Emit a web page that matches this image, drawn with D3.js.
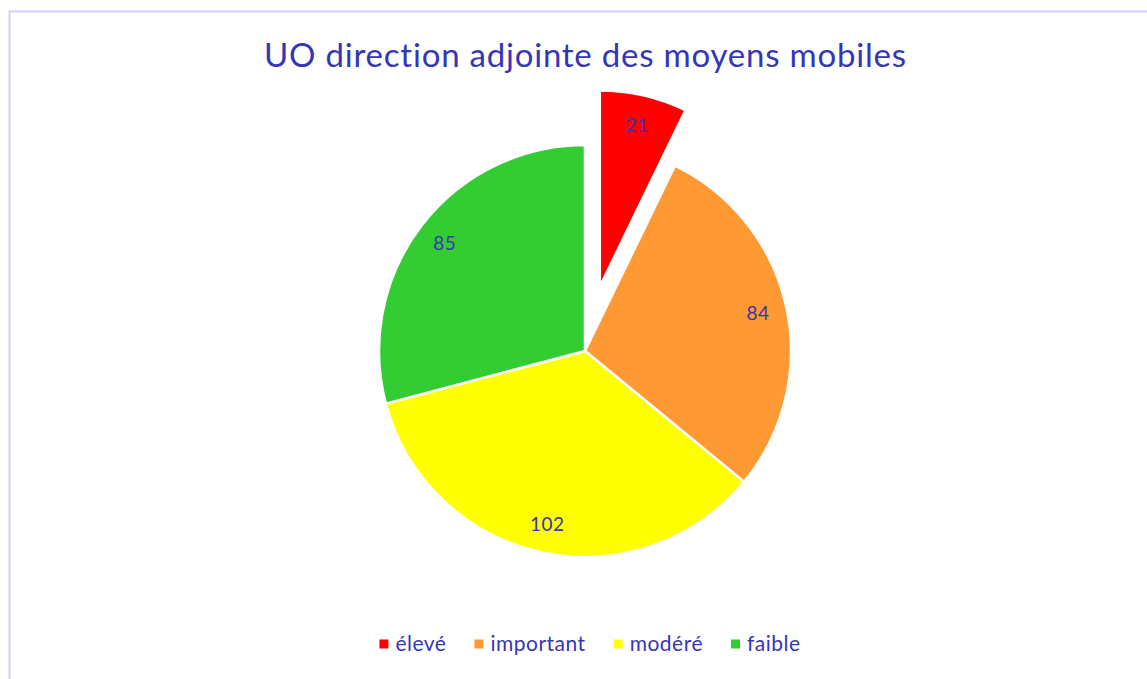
<!DOCTYPE html>
<html>
<head>
<meta charset="utf-8">
<script src="https://cdn.jsdelivr.net/npm/d3@7"></script>
<style>
  body { margin: 0; background: #fff; }
  svg { display: block; font-family: Lato, "Open Sans", sans-serif; font-variant-ligatures: none; }
</style>
</head>
<body>
<div id="chart"></div>
<script>
const categories = ['élevé', 'important', 'modéré', 'faible'];
const values = [21, 84, 102, 85];
const colors = ['#ff0000', '#ff9933', '#ffff00', '#33cc33'];
const exploded = [true, false, false, false];
const chartTitle = 'UO direction adjointe des moyens mobiles';

const width = 1147, height = 679;
const textColor = '#3535b5';

const svg = d3.select('#chart').append('svg')
  .attr('width', width)
  .attr('height', height);

// chart area border (runs off the right and bottom edges)
svg.append('rect')
  .attr('x', 9.5).attr('y', 11.5)
  .attr('width', 1160).attr('height', 700)
  .attr('fill', 'none')
  .attr('stroke', '#d0d0f2')
  .attr('stroke-width', 2);

svg.append('text')
  .attr('x', 585).attr('y', 67)
  .attr('text-anchor', 'middle')
  .attr('fill', textColor)
  .attr('font-size', 33)
  .attr('textLength', 642)
  .text(chartTitle);

const cx = 585, cy = 351, radius = 206;

const data = categories.map((c, i) => ({ name: c, value: values[i], color: colors[i], exploded: exploded[i] }));

const pie = d3.pie().value(d => d.value).sort(null);
const arcs = pie(data);

const arc = d3.arc().innerRadius(0).outerRadius(radius);
const arcExploded = d3.arc().innerRadius(0).outerRadius(radius * 0.952);

const g = svg.append('g').attr('transform', `translate(${cx},${cy})`);

const offset = d => {
  if (!d.data.exploded) return [0, 0];
  const mid = (d.startAngle + d.endAngle) / 2;
  return [Math.sin(mid) * 66, -Math.cos(mid) * 66];
};

const slice = g.selectAll('.slice')
  .data(arcs)
  .enter().append('g')
  .attr('class', 'slice')
  .attr('transform', d => `translate(${offset(d)})`);

slice.append('path')
  .attr('d', d => d.data.exploded ? arcExploded(d) : arc(d))
  .attr('fill', d => d.data.color)
  .attr('stroke', '#fff')
  .attr('stroke-width', 2.5)
  .attr('stroke-linejoin', 'round');

slice.append('text')
  .attr('transform', d => {
    const mid = (d.startAngle + d.endAngle) / 2;
    const r = d.data.exploded ? 166 : 177;
    return `translate(${Math.sin(mid) * r},${-Math.cos(mid) * r})`;
  })
  .attr('text-anchor', 'middle')
  .attr('dy', '0.35em')
  .attr('fill', textColor)
  .attr('font-size', 19)
  .attr('letter-spacing', 0.5)
  .text(d => d.data.value);

// legend
const legend = svg.append('g');
const item = legend.selectAll('.item')
  .data(data)
  .enter().append('g')
  .attr('class', 'item');

item.append('rect')
  .attr('width', 9).attr('height', 9)
  .attr('y', -4.5)
  .attr('fill', d => d.color);

item.append('text')
  .attr('x', 16)
  .attr('dy', '0.35em')
  .attr('fill', textColor)
  .attr('font-size', 21)
  .attr('letter-spacing', 0.5)
  .text(d => d.name);

const gap = 28;
let xPos = 0;
item.each(function () {
  const w = this.getBBox().width;
  d3.select(this).attr('transform', `translate(${xPos},0)`);
  xPos += w + gap;
});
const totalW = xPos - gap;
legend.attr('transform', `translate(${590 - totalW / 2},644)`);
</script>
</body>
</html>
